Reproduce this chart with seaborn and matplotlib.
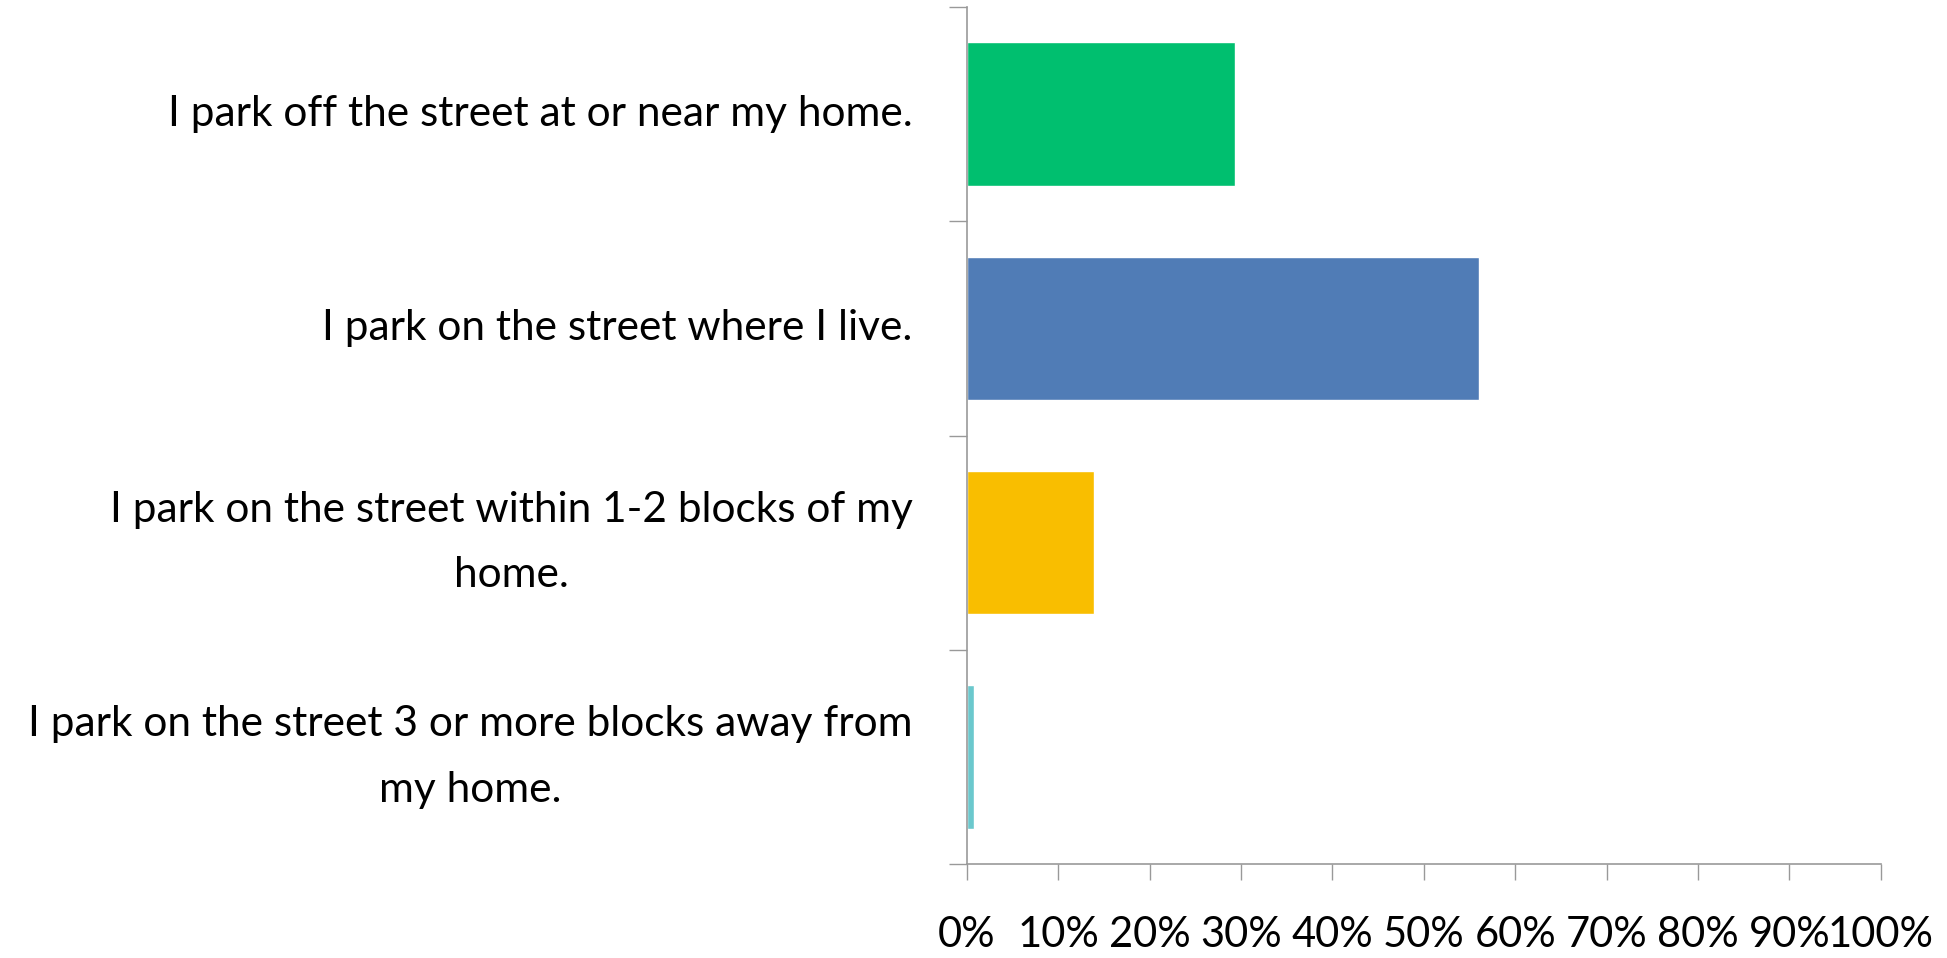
import numpy as np
import pandas as pd
import matplotlib.pyplot as plt
import seaborn as sns
from matplotlib.ticker import PercentFormatter, FixedLocator

answers = [
    "I park off the street at or near my home.",
    "I park on the street where I live.",
    "I park on the street within 1-2 blocks of my\nhome.",
    "I park on the street 3 or more blocks away from\nmy home.",
]
share = [29.3, 56.0, 13.9, 0.8]
colors = ["#00BF6F", "#507CB6", "#F9BE00", "#6BC8CD"]

df = pd.DataFrame({"answer": answers, "share": share})

sns.set_style("white")
plt.rcParams["font.family"] = ["Lato", "DejaVu Sans"]
plt.rcParams["text.color"] = "black"

fig = plt.figure(figsize=(19.47, 9.58), dpi=100)
ax = fig.add_axes([0.4965, 0.0981, 0.4695, 0.8946])
sns.barplot(data=df, x="share", y="answer", hue="answer", palette=colors,
            orient="h", width=0.67, legend=False, ax=ax, saturation=1)

ax.set_xlim(0, 100)
ax.set_ylim(3.5, -0.5)
ax.set_xticks(np.arange(0, 101, 10))
ax.xaxis.set_major_formatter(PercentFormatter(decimals=0))
ax.set_xlabel("")
ax.set_ylabel("")

# boundary ticks between categories, labels centred on bars without ticks
ax.yaxis.set_minor_locator(FixedLocator(np.arange(-0.5, 4, 1)))
ax.tick_params(axis="y", which="major", left=True, length=0, pad=39,
               labelsize=30.5, labelcolor="black")
ax.tick_params(axis="y", which="minor", left=True, length=13, width=1,
               color="#999999")
ax.tick_params(axis="x", bottom=True, length=11.5, width=1, color="#999999",
               pad=26, labelsize=30, labelcolor="black")
for lab in ax.get_yticklabels():
    lab.set_multialignment("center")
    lab.set_linespacing(1.88)
    lab.set_verticalalignment("center")

for s in ["top", "right"]:
    ax.spines[s].set_visible(False)
for s in ["left", "bottom"]:
    ax.spines[s].set_color("#999999")
    ax.spines[s].set_linewidth(1.2)

fig.savefig("out.png", dpi=100)
